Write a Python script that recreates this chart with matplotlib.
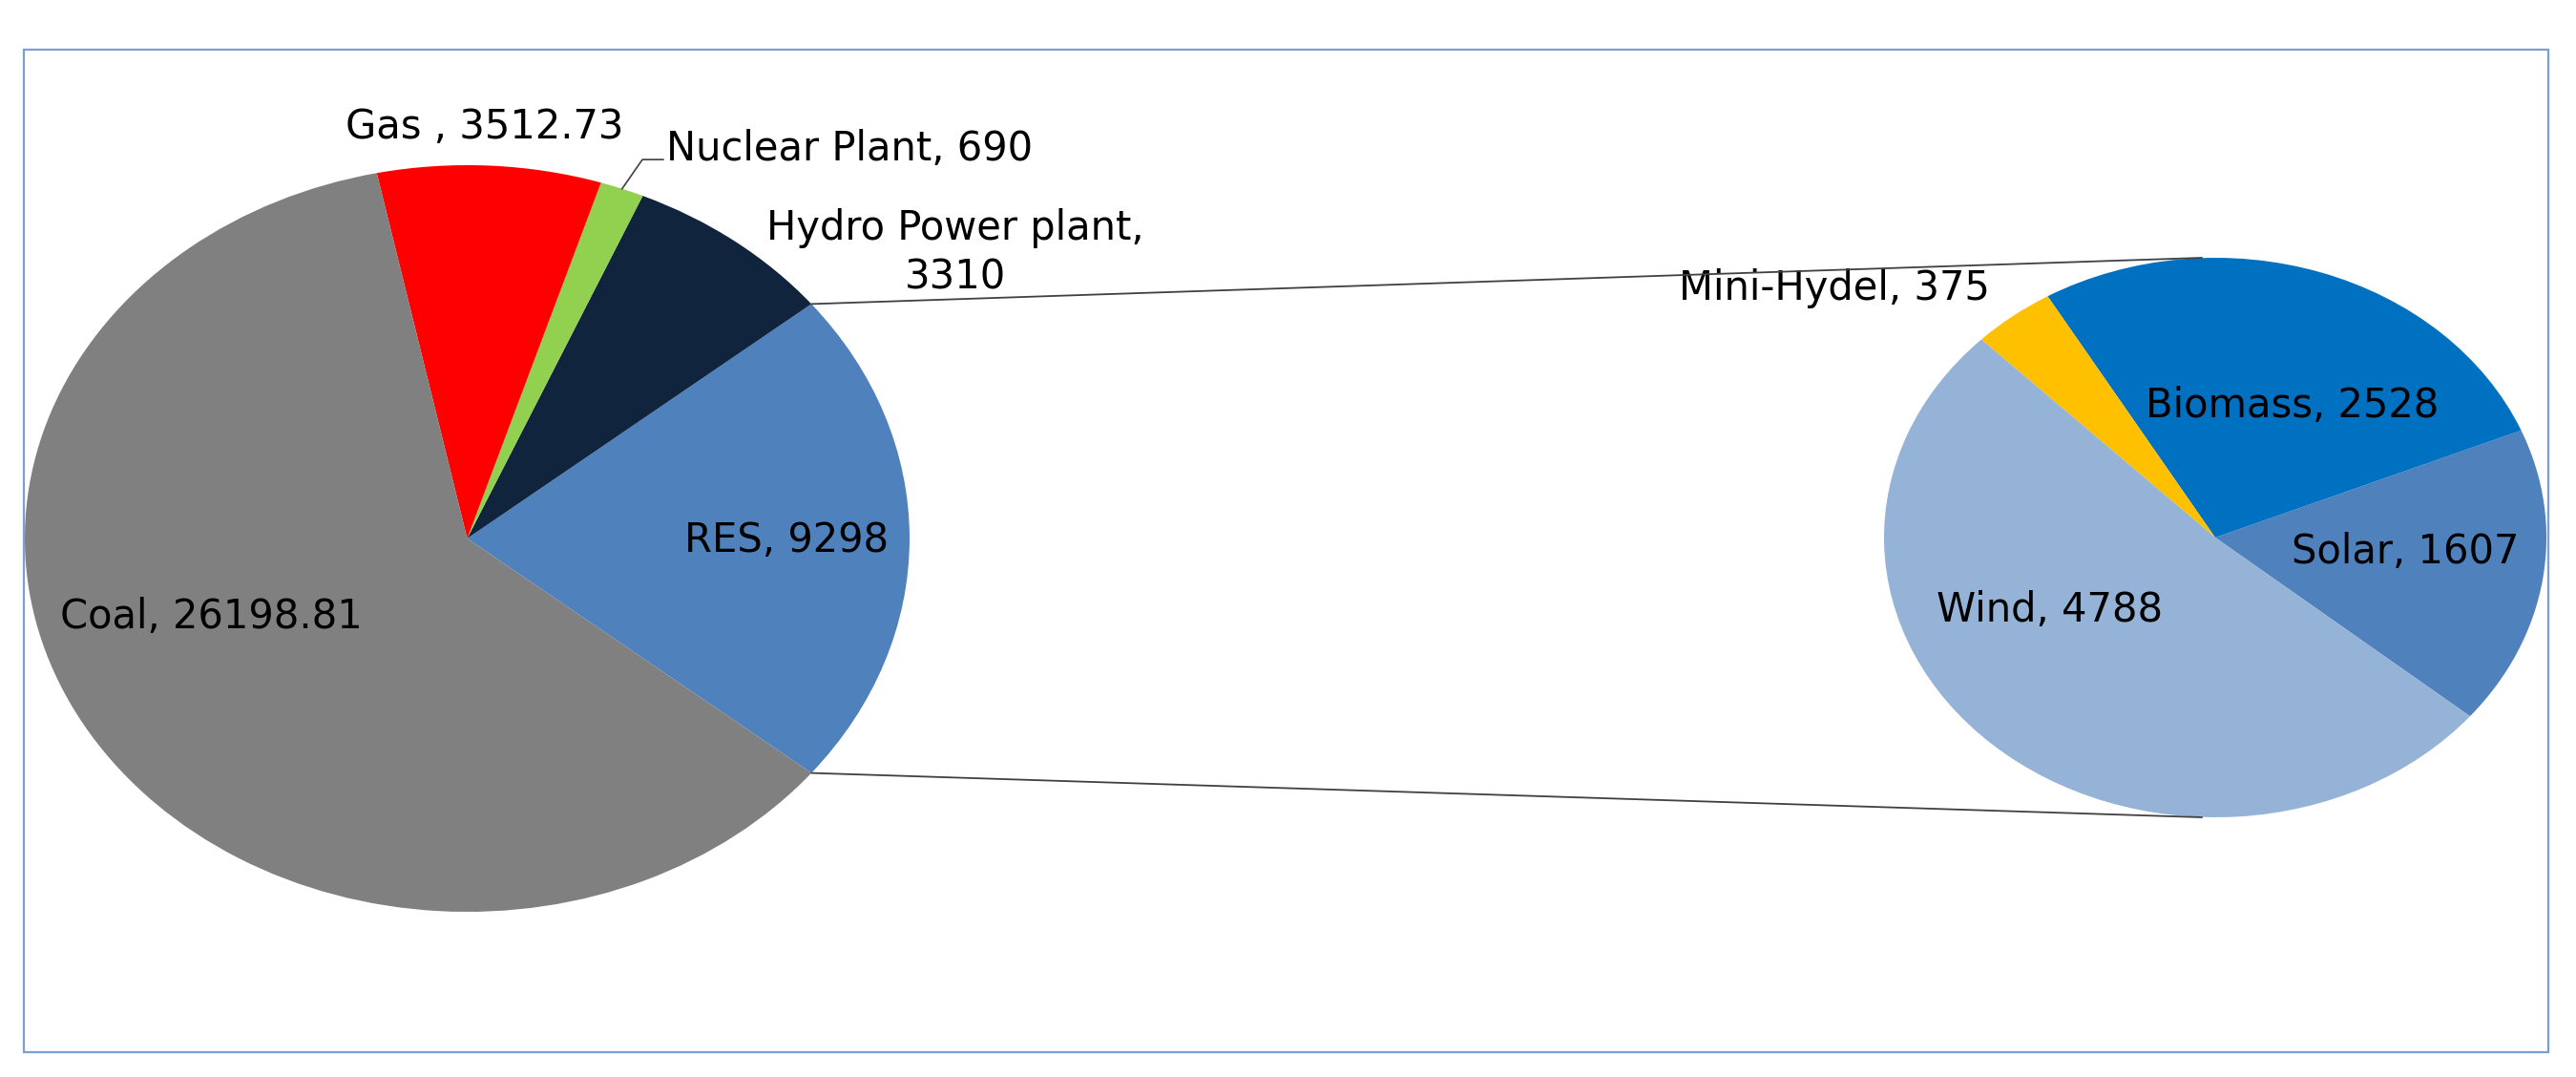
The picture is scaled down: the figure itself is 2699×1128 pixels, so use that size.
import matplotlib
matplotlib.use("Agg")
import numpy as np
import matplotlib.pyplot as plt
from matplotlib.patches import ConnectionPatch, Rectangle

# main pie (installed capacity, MW)
main_names = ["RES", "Hydro Power plant", "Nuclear Plant", "Gas ", "Coal"]
main_values = [9298, 3310, 690, 3512.73, 26198.81]
main_colors = ["#4f81bd", "#10243e", "#92d050", "#ff0000", "#808080"]

# breakdown of RES
res_names = ["Solar", "Biomass", "Mini-Hydel", "Wind"]
res_values = [1607, 2528, 375, 4788]
res_colors = ["#4f81bd", "#0070c0", "#ffc000", "#95b3d7"]

FS = 30


def fmt(v):
    return ("%.2f" % v).rstrip("0").rstrip(".")


fig = plt.figure(figsize=(26.99, 11.28), dpi=100)

# blue frame around the chart
fig.add_artist(Rectangle((25 / 2699, 26 / 1128), 2645 / 2699, 1050 / 1128,
                         transform=fig.transFigure, fill=False,
                         edgecolor="#7a9fd4", linewidth=1.6))

ax1 = fig.add_axes([26 / 2699, 173 / 1128, 927 / 2699, 782 / 1128])
ax2 = fig.add_axes([1974 / 2699, 272 / 1128, 694 / 2699, 586 / 1128])

total = sum(main_values)
start1 = -main_values[0] / total * 180
w1, _ = ax1.pie(main_values, colors=main_colors, startangle=start1,
                counterclock=True, radius=1, wedgeprops=dict(linewidth=0))
w2, _ = ax2.pie(res_values, colors=res_colors, startangle=-39.7,
                counterclock=True, radius=1, wedgeprops=dict(linewidth=0))

for ax, ws in ((ax1, w1), (ax2, w2)):
    ax.set_aspect("auto")
    ax.set_xlim(-1, 1)
    ax.set_ylim(-1, 1)
    ax.axis("off")
    for w in ws:
        w.set_clip_on(False)

# data labels on the main pie
lab = {n: f"{n}, {fmt(v)}" for n, v in zip(main_names, main_values)}
ax1.text(0.040, 1.102, lab["Gas "], fontsize=FS, ha="center", va="center")
ax1.text(0.450, 1.043, lab["Nuclear Plant"], fontsize=FS, ha="left", va="center")
ax1.text(1.104, 0.765, "Hydro Power plant,\n" + fmt(main_values[1]),
         fontsize=FS, ha="center", va="center", linespacing=1.28)
ax1.text(0.722, -0.005, lab["RES"], fontsize=FS, ha="center", va="center")
ax1.text(-0.579, -0.210, lab["Coal"], fontsize=FS, ha="center", va="center")

# leader line for the nuclear slice
mid = np.deg2rad(start1 + (sum(main_values[:2]) + main_values[2] / 2) / total * 360)
ax1.plot([np.cos(mid), 0.396, 0.443], [np.sin(mid), 1.015, 1.015],
         color="#404040", linewidth=1.2, clip_on=False)

# data labels on the RES pie
rlab = {n: f"{n}, {fmt(v)}" for n, v in zip(res_names, res_values)}
ax2.text(-1.150, 0.891, rlab["Mini-Hydel"], fontsize=FS, ha="center", va="center")
ax2.text(0.233, 0.471, rlab["Biomass"], fontsize=FS, ha="center", va="center")
ax2.text(0.573, -0.051, rlab["Solar"], fontsize=FS, ha="center", va="center")
ax2.text(-0.499, -0.259, rlab["Wind"], fontsize=FS, ha="center", va="center")

# series lines joining RES slice to the second pie
half = np.deg2rad(main_values[0] / total * 180)
for sgn in (1, -1):
    con = ConnectionPatch(xyA=(np.cos(half), sgn * np.sin(half)), coordsA=ax1.transData,
                          xyB=(-0.04, sgn * 1.0), coordsB=ax2.transData,
                          color="#404040", linewidth=1.3)
    fig.add_artist(con)

fig.savefig("out.png", dpi=100)
